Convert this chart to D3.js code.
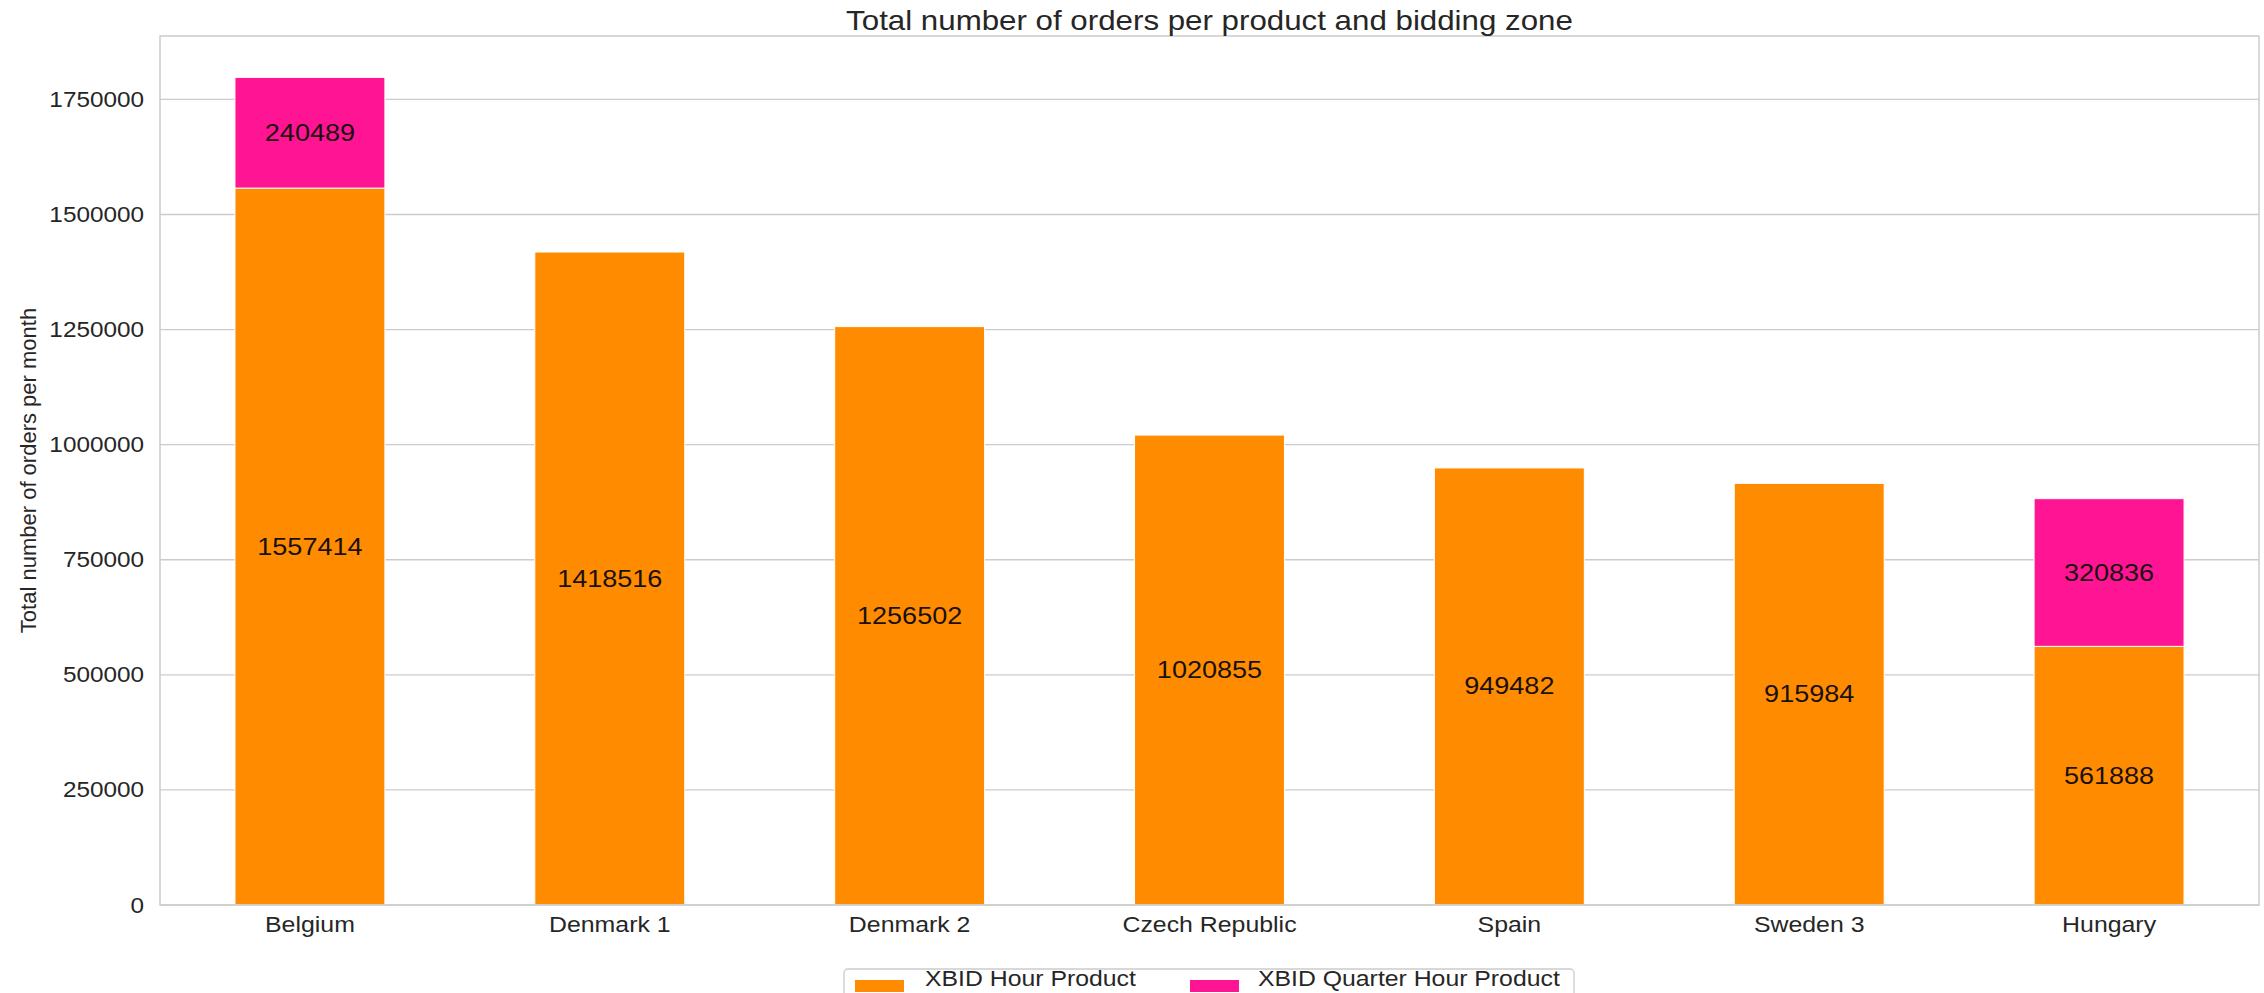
<!DOCTYPE html>
<html><head><meta charset="utf-8">
<script src="https://cdn.jsdelivr.net/npm/d3@7"></script>
<style>body{margin:0;background:#fff}</style>
</head><body>
<svg id="c" width="2264" height="993"></svg>
<script>
const categories = ["Belgium","Denmark 1","Denmark 2","Czech Republic","Spain","Sweden 3","Hungary"];
const hourProduct = [1557414,1418516,1256502,1020855,949482,915984,561888];
const quarterHourProduct = [240489,0,0,0,0,0,320836];
const seriesNames = ["XBID Hour Product","XBID Quarter Hour Product"];
const seriesColors = ["#FF8C00","#FF1493"];
const yTicks = [0,250000,500000,750000,1000000,1250000,1500000,1750000];

const FONT = "Liberation Sans, Arial, sans-serif";
const TXT = "#262626";
// horizontally stretch text to match reference proportions
function stretch(sel, f){
  sel.each(function(){
    const w = this.getComputedTextLength();
    d3.select(this).attr("textLength", w*f).attr("lengthAdjust","spacingAndGlyphs");
  });
}

const svg = d3.select("#c");
const L=160, R=2259, T=36, B=905;
const x = d3.scaleBand().domain(categories).range([L,R]).paddingInner(0.5).paddingOuter(0.25);
const maxV = d3.max(categories.map((c,i)=>hourProduct[i]+quarterHourProduct[i]));
const y = d3.scaleLinear().domain([0,maxV*1.05]).range([B,T]);

// grid
svg.append("g").selectAll("line").data(yTicks).join("line")
  .attr("x1",L).attr("x2",R).attr("y1",d=>y(d)).attr("y2",d=>y(d))
  .attr("stroke","#cccccc").attr("stroke-width",1.3);

// y axis
const ya = svg.append("g").attr("transform",`translate(${L},0)`)
  .call(d3.axisLeft(y).tickValues(yTicks).tickFormat(d3.format("d")).tickSize(0).tickPadding(16));
ya.select(".domain").remove();
ya.selectAll("text").attr("font-family",FONT).attr("font-size",22).attr("fill",TXT).call(stretch,1.105);

// x axis
const xa = svg.append("g").attr("transform",`translate(0,${B})`)
  .call(d3.axisBottom(x).tickSize(0).tickPadding(11));
xa.select(".domain").remove();
xa.selectAll("text").attr("font-family",FONT).attr("font-size",22).attr("fill",TXT).call(stretch,1.13);

// stacked data
const rows = categories.map((c,i)=>({cat:c, h:hourProduct[i], q:quarterHourProduct[i]}));
const stack = d3.stack().keys(["h","q"])(rows);
const g = svg.append("g");
stack.forEach((layer,li)=>{
  g.append("g").selectAll("rect").data(layer).join("rect")
    .attr("x",d=>x(d.data.cat)).attr("width",x.bandwidth())
    .attr("y",d=>y(d[1])).attr("height",d=>y(d[0])-y(d[1]))
    .attr("fill",seriesColors[li]).attr("stroke","#ffffff").attr("stroke-width",1);
});
stack.forEach((layer,li)=>{
  g.append("g").selectAll("text").data(layer.filter(d=>d[1]-d[0]>0)).join("text")
    .attr("x",d=>x(d.data.cat)+x.bandwidth()/2).attr("y",d=>y((d[0]+d[1])/2))
    .attr("text-anchor","middle").attr("dominant-baseline","central")
    .attr("font-family",FONT).attr("font-size",23.5).attr("fill","#1a1010")
    .text(d=>d[1]-d[0]).call(stretch,1.15);
});

// spines
svg.append("rect").attr("x",L).attr("y",T).attr("width",R-L).attr("height",B-T)
  .attr("fill","none").attr("stroke","#cccccc").attr("stroke-width",1.5);

// title
svg.append("text").attr("x",(L+R)/2).attr("y",30).attr("text-anchor","middle")
  .attr("font-family",FONT).attr("font-size",28).attr("fill",TXT)
  .text("Total number of orders per product and bidding zone").call(stretch,1.117);

// y label
svg.append("text").attr("transform",`translate(36,${(T+B)/2}) rotate(-90)`).attr("text-anchor","middle")
  .attr("font-family",FONT).attr("font-size",22).attr("fill",TXT)
  .text("Total number of orders per month");

// legend
const lg = svg.append("g");
lg.append("rect").attr("x",844).attr("y",969).attr("width",730).attr("height",50).attr("rx",4)
  .attr("fill","#fff").attr("stroke","#cccccc").attr("stroke-width",1.3);
const lx = [855,1190], tx=[925,1258];
seriesNames.forEach((n,i)=>{
  lg.append("rect").attr("x",lx[i]).attr("y",980).attr("width",49).attr("height",12).attr("fill",seriesColors[i]);
  lg.append("text").attr("x",tx[i]).attr("y",986).attr("font-family",FONT)
    .attr("font-size",22).attr("fill",TXT).text(n).call(stretch,1.127);
});
</script>
</body></html>
